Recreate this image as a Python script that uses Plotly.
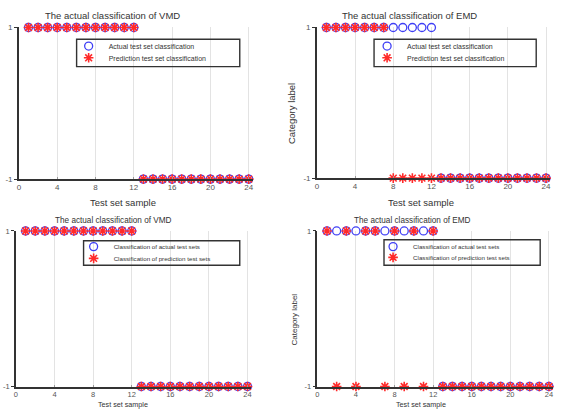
import plotly.graph_objects as go

W, H = 577, 414

samples = [1, 2, 3, 4, 5, 6, 7, 8, 9, 10, 11, 12, 13, 14, 15, 16, 17, 18, 19, 20, 21, 22, 23, 24]

vmd_actual_top = [1, 1, 1, 1, 1, 1, 1, 1, 1, 1, 1, 1, -1, -1, -1, -1, -1, -1, -1, -1, -1, -1, -1, -1]
vmd_pred_top = [1, 1, 1, 1, 1, 1, 1, 1, 1, 1, 1, 1, -1, -1, -1, -1, -1, -1, -1, -1, -1, -1, -1, -1]
emd_actual_top = [1, 1, 1, 1, 1, 1, 1, 1, 1, 1, 1, 1, -1, -1, -1, -1, -1, -1, -1, -1, -1, -1, -1, -1]
emd_pred_top = [1, 1, 1, 1, 1, 1, 1, -1, -1, -1, -1, -1, -1, -1, -1, -1, -1, -1, -1, -1, -1, -1, -1, -1]

vmd_actual_bot = [1, 1, 1, 1, 1, 1, 1, 1, 1, 1, 1, 1, -1, -1, -1, -1, -1, -1, -1, -1, -1, -1, -1, -1]
vmd_pred_bot = [1, 1, 1, 1, 1, 1, 1, 1, 1, 1, 1, 1, -1, -1, -1, -1, -1, -1, -1, -1, -1, -1, -1, -1]
emd_actual_bot = [1, 1, 1, 1, 1, 1, 1, 1, 1, 1, 1, 1, -1, -1, -1, -1, -1, -1, -1, -1, -1, -1, -1, -1]
emd_pred_bot = [1, -1, 1, -1, 1, 1, -1, 1, -1, 1, -1, 1, -1, -1, -1, -1, -1, -1, -1, -1, -1, -1, -1, -1]

x_ticks = [0, 4, 8, 12, 16, 20, 24]
y_ticks = [-1, 1]
y_tick_text = ["-1", "1"]

titles = ["The actual classification of VMD", "The actual classification of EMD",
          "The actual classification of VMD", "The actual classification of EMD"]
x_title = "Test set sample"
y_title = "Category label"
legend_top = ["Actual test set classification", "Prediction test set classification"]
legend_bot = ["Classification of actual test sets", "Classification of prediction test sets"]

BLUE = "#3f3ff5"
RED = "#ff2a2a"
FONT = "Liberation Sans, Arial, sans-serif"


def px(x):
    return x / W


def py(y):
    return 1 - y / H


# panel geometry in pixels: (x0 px, unit px, top px, bottom px, tick font)
panels = [
    (17.0, 9.625, 24, 179, 8),
    (316.5, 9.6, 24, 178, 8),
    (14.0, 9.7, 232, 391, 7.5),
    (317.0, 9.7, 232, 391, 7.5),
]
XMAX = 24.4

fig = go.Figure()

series = [
    (vmd_actual_top, vmd_pred_top, legend_top),
    (emd_actual_top, emd_pred_top, legend_top),
    (vmd_actual_bot, vmd_pred_bot, legend_bot),
    (emd_actual_bot, emd_pred_bot, legend_bot),
]

legend_pos = [
    # (symbol x, row1 y, row2 y, font size)
    (87, 43, 55, 7),
    (387, 43, 55, 7),
    (92, 248, 260, 6.2),
    (393, 248, 259, 6.2),
]

layout_extra = {}
for i, (act, pred, names) in enumerate(series):
    ax = "" if i == 0 else str(i + 1)
    lg1 = "legend" if i == 0 else f"legend{2 * i + 1}"
    lg2 = f"legend{2 * i + 2}"
    fig.add_trace(go.Scatter(
        x=samples, y=act, mode="markers", name=names[0],
        xaxis="x" + ax, yaxis="y" + ax, legend=lg1, cliponaxis=False,
        marker=dict(symbol="circle-open", size=8, color=BLUE, line=dict(width=1.3, color=BLUE)),
    ))
    fig.add_trace(go.Scatter(
        x=samples, y=pred, mode="markers", name=names[1],
        xaxis="x" + ax, yaxis="y" + ax, legend=lg2, cliponaxis=False,
        marker=dict(symbol="asterisk-open", size=8, color=RED, line=dict(width=1.6, color=RED)),
    ))
    x0, unit, top, bot, tf = panels[i]
    layout_extra["xaxis" + ax] = dict(
        domain=[px(x0), px(x0 + XMAX * unit)], range=[0, XMAX],
        anchor="y" + ax, tickvals=x_ticks, showgrid=True, gridcolor="#e3e3e3", gridwidth=1,
        zeroline=False, showline=True, linecolor="#333333", linewidth=1.5,
        ticks="inside", ticklen=2, tickcolor="#999999",
        tickfont=dict(family=FONT, size=tf, color="#555555"),
    )
    layout_extra["yaxis" + ax] = dict(
        domain=[py(bot), py(top)], range=[-1, 1],
        anchor="x" + ax, tickvals=y_ticks, ticktext=y_tick_text,
        showgrid=True, gridcolor="#e3e3e3", gridwidth=1,
        zeroline=False, showline=True, linecolor="#333333", linewidth=1.5,
        ticks="outside", ticklen=3, tickcolor="#333333",
        tickfont=dict(family=FONT, size=tf, color="#555555"),
    )
    sx, r1, r2, fs = legend_pos[i]
    for lg, ry in ((lg1, r1), (lg2, r2)):
        layout_extra[lg] = dict(
            x=px(sx - 20), y=py(ry), xanchor="left", yanchor="middle",
            bgcolor="rgba(0,0,0,0)", borderwidth=0,
            font=dict(family=FONT, size=fs, color="#333333"),
        )

boxes = [(75, 36, 239, 64), (374, 36, 537, 64), (82, 242, 239, 267), (384, 241, 541, 267)]
shapes = [dict(type="rect", xref="paper", yref="paper", x0=px(a), x1=px(c), y0=py(d), y1=py(b),
               line=dict(color="#333333", width=1.4), fillcolor="rgba(0,0,0,0)", layer="above")
          for a, b, c, d in boxes]

annotations = []
title_pos = [(111, 12, 9.5), (410, 12, 9.5), (112, 221, 8.2), (413, 221, 8.2)]
for t, (x, y, fs) in zip(titles, title_pos):
    annotations.append(dict(text=t, x=px(x), y=py(y), xref="paper", yref="paper",
                            xanchor="center", yanchor="middle", showarrow=False,
                            font=dict(family=FONT, size=fs, color="#333333")))
for x, y, fs in [(122, 203, 9.5), (421, 203, 9.5), (122, 409.5, 7.2), (421, 409.5, 7.2)]:
    annotations.append(dict(text=x_title, x=px(x), y=py(y), xref="paper", yref="paper",
                            xanchor="center", yanchor="middle", showarrow=False,
                            font=dict(family=FONT, size=fs, color="#333333")))
for x, y, fs in [(291, 112, 9.5), (294, 322, 8)]:
    annotations.append(dict(text=y_title, x=px(x), y=py(y), xref="paper", yref="paper",
                            xanchor="center", yanchor="middle", showarrow=False, textangle=-90,
                            font=dict(family=FONT, size=fs, color="#333333")))

fig.update_layout(
    width=W, height=H, margin=dict(l=0, r=0, t=0, b=0),
    paper_bgcolor="white", plot_bgcolor="white",
    showlegend=True, shapes=shapes, annotations=annotations,
    **layout_extra,
)

fig.write_html("out.html")
